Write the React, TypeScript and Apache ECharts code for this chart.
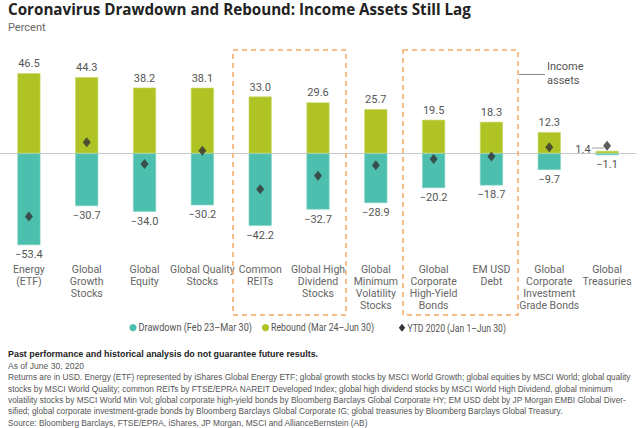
import React, { useEffect, useRef } from "react";
import * as echarts from "echarts";

const categories = [
  "Energy\n(ETF)",
  "Global\nGrowth\nStocks",
  "Global\nEquity",
  "Global Quality\nStocks",
  "Common\nREITs",
  "Global High\nDividend\nStocks",
  "Global\nMinimum\nVolatility\nStocks",
  "Global\nCorporate\nHigh-Yield\nBonds",
  "EM USD\nDebt",
  "Global\nCorporate\nInvestment\nGrade Bonds",
  "Global\nTreasuries",
];
const drawdown = [-53.4, -30.7, -34.0, -30.2, -42.2, -32.7, -28.9, -20.2, -18.7, -9.7, -1.1];
const rebound = [46.5, 44.3, 38.2, 38.1, 33.0, 29.6, 25.7, 19.5, 18.3, 12.3, 1.4];
const ytd = [-36.8, 6.4, -6.2, 1.5, -20.9, -13.0, -7.0, -3.3, -1.8, 3.5, 4.4];
const seriesNames = ["Drawdown (Feb 23\u2013Mar 30)", "Rebound (Mar 24\u2013Jun 30)", "YTD 2020 (Jan 1\u2013Jun 30)"];

const footLines = [
  "Returns are in USD. Energy (ETF) represented by iShares Global Energy ETF; global growth stocks by MSCI World Growth; global equities by MSCI World; global quality",
  "stocks by MSCI World Quality; common REITs by FTSE/EPRA NAREIT Developed Index; global high dividend stocks by MSCI World High Dividend, global minimum",
  "volatility stocks by MSCI World Min Vol; global corporate high-yield bonds by Bloomberg Barclays Global Corporate HY; EM USD debt by JP Morgan EMBI Global Diver-",
  "sified; global corporate investment-grade bonds by Bloomberg Barclays Global Corporate IG; global treasuries by Bloomberg Barclays Global Treasury.",
  "Source: Bloomberg Barclays, FTSE/EPRA, iShares, JP Morgan, MSCI and AllianceBernstein (AB)",
];

const TEAL = "#4DBFAE";
const GREEN = "#AFC325";
const DIAMOND = "#333";
const ORANGE = "#F6A964";
const FONT = "Roboto, 'Noto Sans', sans-serif";
const FOOT_FONT = "'Liberation Sans', Arial, sans-serif";
const fmt = (v: number) => (v < 0 ? "\u2212" + Math.abs(v).toFixed(1) : v.toFixed(1));

export default function App() {
  const ref = useRef<HTMLDivElement>(null);
  useEffect(() => {
    document.body.style.margin = "0";
    const chart = echarts.init(ref.current!, null, { renderer: "svg" });
    const last = categories.length - 1;
    const foot: any[] = footLines.map((t, i) => ({
      type: "text",
      x: 8,
      y: 377 + i * 11.4,
      scaleX: 0.875,
      style: { text: t, fontSize: 9.5, fill: "#555", fontFamily: FOOT_FONT, verticalAlign: "middle" },
    }));
    const LY = 327.7;
    const legendX = [133, 265.5, 402];
    const legendScale = [0.87, 0.84, 0.82];
    const legendGraphics: any[] = [
      { type: "circle", shape: { cx: legendX[0], cy: LY, r: 3.6 }, style: { fill: TEAL } },
      { type: "circle", shape: { cx: legendX[1], cy: LY, r: 3.6 }, style: { fill: GREEN } },
      { type: "polygon", shape: { points: [[legendX[2], LY - 4], [legendX[2] + 3.2, LY], [legendX[2], LY + 4], [legendX[2] - 3.2, LY]] }, style: { fill: DIAMOND } },
      ...seriesNames.map((n, i) => ({
        type: "text",
        x: legendX[i] + 5.5,
        y: LY,
        scaleX: legendScale[i],
        style: { text: n, fontSize: 10.5, fill: "#555", fontFamily: FONT, verticalAlign: "middle" },
      })),
    ];
    chart.setOption({
      animation: false,
      textStyle: { fontFamily: FONT },
      grid: { left: -2, right: 4, top: 67.3, height: 189.2 },
      xAxis: {
        type: "category",
        data: categories,
        axisLine: { onZero: true, lineStyle: { color: "#c8c8c8", width: 1 } },
        axisTick: { show: false },
        axisLabel: { interval: 0, color: "#666", fontSize: 10.5, lineHeight: 12, margin: 7, fontFamily: FONT },
      },
      yAxis: { type: "value", min: -60, max: 50, show: false, splitLine: { show: false } },
      series: [
        {
          name: seriesNames[0],
          type: "bar",
          stack: "s",
          barWidth: 23,
          itemStyle: { color: TEAL, borderColor: "#7fd3c5", borderWidth: 0.6 },
          label: { show: true, position: "bottom", distance: 4, color: "#555", fontSize: 11, formatter: (p: any) => fmt(p.value) },
          data: drawdown,
        },
        {
          name: seriesNames[1],
          type: "bar",
          stack: "s",
          barWidth: 23,
          itemStyle: { color: GREEN, borderColor: "#cbd96a", borderWidth: 0.6 },
          label: { show: true, position: "top", distance: 4, color: "#555", fontSize: 11, formatter: (p: any) => fmt(p.value) },
          data: rebound.map((v, i) =>
            i === last ? { value: v, label: { position: "left", distance: 0, offset: [-5, -3] } } : v
          ),
        },
        {
          name: seriesNames[2],
          type: "scatter",
          symbol: "diamond",
          symbolSize: [8, 10],
          itemStyle: { color: DIAMOND },
          z: 5,
          data: ytd,
        },
      ],
      graphic: [
        { type: "text", left: 8, top: 1, style: { text: "Coronavirus Drawdown and Rebound: Income Assets Still Lag", fontSize: 15.2, fontWeight: "bold", fill: "#222", fontFamily: "'Open Sans', sans-serif" } },
        { type: "text", left: 8, top: 21.5, style: { text: "Percent", fontSize: 11, fill: "#666", fontFamily: FONT } },
        { type: "rect", shape: { x: 233, y: 50, width: 113, height: 265 }, style: { fill: "none", stroke: ORANGE, lineWidth: 1.5, lineDash: [5, 4] }, z: 1 },
        { type: "rect", shape: { x: 403, y: 50, width: 115, height: 265 }, style: { fill: "none", stroke: ORANGE, lineWidth: 1.5, lineDash: [5, 4] }, z: 1 },
        { type: "line", shape: { x1: 519, y1: 74.5, x2: 545, y2: 74.5 }, style: { stroke: "#888", lineWidth: 1 } },
        { type: "text", x: 547, y: 59, style: { text: "Income\nassets", fontSize: 11, lineHeight: 14, fill: "#555", fontFamily: FONT } },
        { type: "line", shape: { x1: 592, y1: 148, x2: 604, y2: 148 }, style: { stroke: "#888", lineWidth: 0.8 } },
        ...legendGraphics,
        { type: "text", x: 8, y: 353.5, scaleX: 0.94, style: { text: "Past performance and historical analysis do not guarantee future results.", fontSize: 9.5, fontWeight: "bold", fill: "#222", fontFamily: FOOT_FONT, verticalAlign: "middle" } },
        { type: "text", x: 8, y: 365.5, scaleX: 0.9, style: { text: "As of June 30, 2020", fontSize: 9.5, fill: "#555", fontFamily: FOOT_FONT, verticalAlign: "middle" } },
        ...foot,
      ],
    });
    return () => chart.dispose();
  }, []);
  return <div ref={ref} style={{ width: 640, height: 428 }} />;
}
